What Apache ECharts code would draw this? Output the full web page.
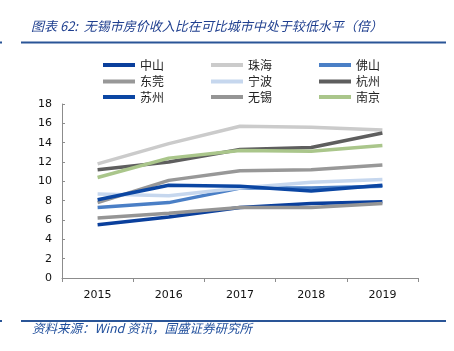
<!DOCTYPE html>
<html><head><meta charset="utf-8">
<script src="https://cdn.jsdelivr.net/npm/echarts@6/dist/echarts.min.js"></script>
<style>html,body{margin:0;padding:0;background:#fff}#c{width:454px;height:351px}</style>
</head><body><div id="c"></div>
<script>
var categories = ['2015','2016','2017','2018','2019'];
var names = ['中山','珠海','佛山','东莞','宁波','杭州','苏州','无锡','南京'];
var zhongshan = [5.5, 6.3, 7.3, 7.7, 7.9];
var zhuhai    = [11.8, 13.9, 15.7, 15.6, 15.3];
var foshan    = [7.3, 7.8, 9.3, 9.3, 9.5];
var dongguan  = [7.8, 10.1, 11.1, 11.2, 11.7];
var ningbo    = [8.7, 8.5, 9.3, 9.9, 10.2];
var hangzhou  = [11.2, 12.0, 13.3, 13.5, 15.0];
var suzhou    = [8.1, 9.6, 9.5, 9.0, 9.6];
var wuxi      = [6.2, 6.7, 7.3, 7.3, 7.7];
var nanjing   = [10.4, 12.4, 13.2, 13.1, 13.7];
var yTicks = [0, 2, 4, 6, 8, 10, 12, 14, 16, 18];
var titleText = '图表 62:  无锡市房价收入比在可比城市中处于较低水平（倍）';
var sourceText = '资料来源：Wind 资讯，国盛证券研究所';

var values = [zhongshan, zhuhai, foshan, dongguan, ningbo, hangzhou, suzhou, wuxi, nanjing];
var colors = ['#0a3f9c','#cbcbcb','#4a7fc6','#989898','#c6d7ee','#5e5e5e','#0b46a3','#959595','#aac68b'];

var series = names.map(function(n, i){
  return {name:n, type:'line', data:values[i], symbol:'none', smooth:false,
    lineStyle:{width:3.5, color:colors[i]}, itemStyle:{color:colors[i]}, z: 2+i};
});

function legendRow(items, top){
  return {data:items, left:98, top:top, orient:'horizontal', itemWidth:32, itemHeight:4,
    itemGap:47, icon:'rect', selectedMode:false,
    textStyle:{fontSize:12, color:'#222', fontFamily:'Noto Sans CJK SC', padding:[0,0,0,0]}};
}

var chart = echarts.init(document.getElementById('c'), null, {renderer:'canvas'});
chart.setOption({
  animation:false,
  color: colors,
  grid:{left:62, right:36, top:104, bottom:73, containLabel:false},
  legend:[legendRow(['中山','珠海','佛山'],54), legendRow(['东莞','宁波','杭州'],70.5), legendRow(['苏州','无锡','南京'],86)],
  xAxis:{type:'category', data:categories, boundaryGap:true,
    axisLine:{lineStyle:{color:'#8c8c8c', width:1}},
    axisTick:{show:true, inside:false, length:4, lineStyle:{color:'#8c8c8c'}},
    axisLabel:{fontSize:11, color:'#111', fontFamily:'DejaVu Sans', margin:12}},
  yAxis:{type:'value', min:yTicks[0], max:yTicks[yTicks.length-1], interval:2,
    axisLine:{show:true, lineStyle:{color:'#8c8c8c'}},
    axisTick:{show:true, inside:true, length:3, lineStyle:{color:'#8c8c8c'}},
    splitLine:{show:false},
    axisLabel:{fontSize:11, color:'#111', fontFamily:'DejaVu Sans', margin:10}},
  series: series,
  graphic:[
    {type:'text', left:31, top:20, style:{text:titleText, fontSize:13, fontStyle:'italic',
      fontFamily:'Noto Sans CJK SC', fill:'#1f3f8f'}},
    {type:'rect', shape:{x:21, y:41.5, width:425, height:2}, style:{fill:'#2a5597'}},
    {type:'rect', shape:{x:0, y:41.5, width:2, height:2}, style:{fill:'#2a5597'}},
    {type:'rect', shape:{x:21, y:320, width:425, height:2}, style:{fill:'#2a5597'}},
    {type:'rect', shape:{x:0, y:320, width:2, height:2}, style:{fill:'#2a5597'}},
    {type:'text', left:32, top:322, style:{text:sourceText, fontSize:12.5, fontStyle:'italic',
      fontFamily:'Noto Sans CJK SC', fill:'#1f4e9c'}}
  ]
});
</script></body></html>
